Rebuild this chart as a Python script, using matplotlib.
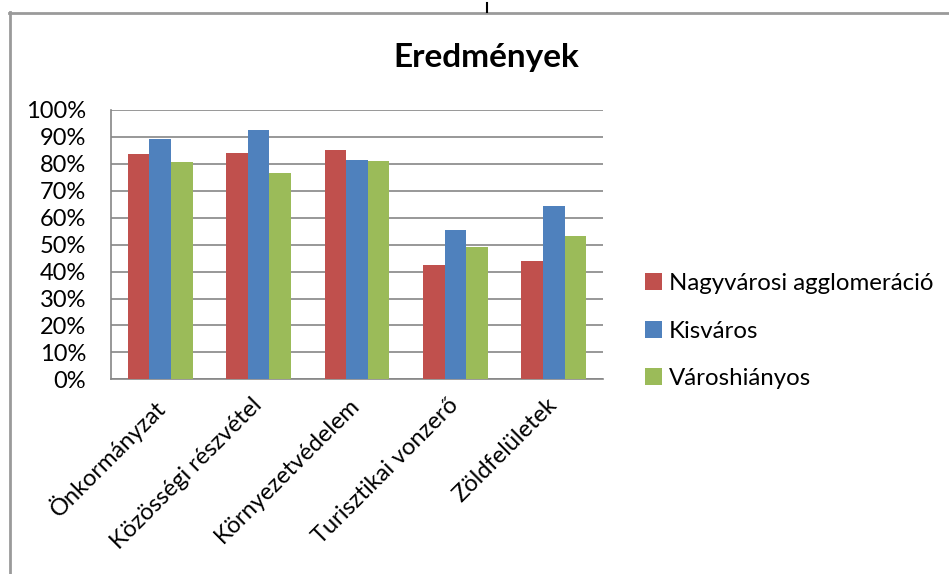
import matplotlib
matplotlib.use('Agg')
import matplotlib.pyplot as plt
import matplotlib.transforms as mtransforms
from matplotlib.lines import Line2D
import numpy as np

plt.rcParams['font.family'] = ['Lato', 'DejaVu Sans']

# adatok
categories = ['Önkormányzat', 'Közösségi részvétel', 'Környezetvédelem',
              'Turisztikai vonzerő', 'Zöldfelületek']
series = ['Nagyvárosi agglomeráció', 'Kisváros', 'Városhiányos']
nagyvarosi = [83.5, 84.0, 85.0, 42.3, 43.8]
kisvaros = [89.3, 92.5, 81.6, 55.6, 64.4]
varoshianyos = [80.7, 76.6, 81.1, 49.1, 53.1]
colors = ['#C0504D', '#4F81BD', '#9BBB59']
yticks = list(range(0, 101, 10))

fig = plt.figure(figsize=(9.49, 5.74), dpi=100)
ax = fig.add_axes([111 / 949, 1 - 379.3 / 574, (603 - 111) / 949, (379.3 - 110) / 574])

x = np.arange(len(categories))
w = 0.22
for i, (vals, name) in enumerate(zip([nagyvarosi, kisvaros, varoshianyos], series)):
    ax.bar(x + (i - 1) * w, vals, w, color=colors[i], label=name, zorder=3)

ax.set_xlim(-0.5, len(categories) - 0.5)
ax.set_ylim(0, 100)
ax.set_yticks(yticks)
ax.set_yticklabels([f'{v}%' for v in yticks], fontsize=17)
ax.yaxis.grid(True, color='#868686', linewidth=1.2, zorder=0)
ax.tick_params(axis='y', length=0, pad=18)
ax.tick_params(axis='x', length=0, pad=11)
for s in ['top', 'right']:
    ax.spines[s].set_visible(False)
for s in ['left', 'bottom']:
    ax.spines[s].set_color('#868686')
    ax.spines[s].set_linewidth(1.2)

ax.set_xticks(x)
ax.set_xticklabels(categories, rotation=45, ha='right', va='top',
                   rotation_mode='anchor', fontsize=17)
shift = mtransforms.ScaledTranslation(-8 / 100, 0, fig.dpi_scale_trans)
for lab in ax.get_xticklabels():
    lab.set_transform(lab.get_transform() + shift)

fig.text(486 / 949, 1 - 57 / 574, 'Eredmények', ha='center', va='center',
         fontsize=24, fontweight='bold')

fig.legend(loc='center left', bbox_to_anchor=(645 / 949, 1 - 331 / 574),
           frameon=False, fontsize=17.3, handlelength=0.7, handleheight=0.7,
           handletextpad=0.3, labelspacing=1.1, borderpad=0, borderaxespad=0)

# keret
fig.add_artist(Line2D([9 / 949, 948 / 949], [1 - 12.5 / 574] * 2,
                      transform=fig.transFigure, color='#9a9a9a', linewidth=2))
fig.add_artist(Line2D([9.5 / 949] * 2, [1 - 12 / 574, 0],
                      transform=fig.transFigure, color='#9a9a9a', linewidth=2))
fig.add_artist(Line2D([487 / 949] * 2, [1 - 3 / 574, 1 - 12 / 574],
                      transform=fig.transFigure, color='black', linewidth=1.5))

fig.savefig('out.png', dpi=100)
